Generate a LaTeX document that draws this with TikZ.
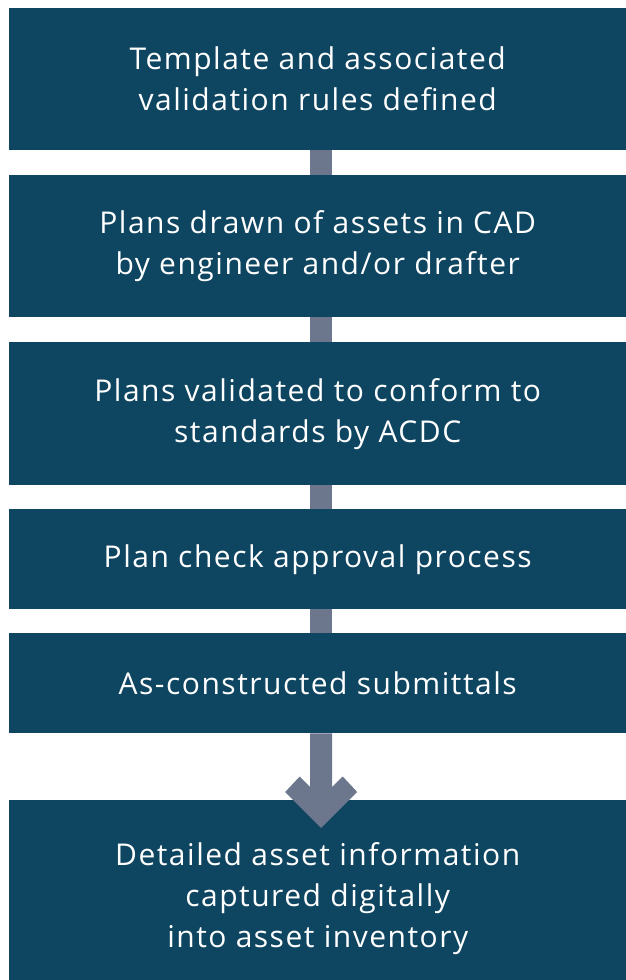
\documentclass[tikz,border=0pt]{standalone}
\usepackage{fontspec}
\setmainfont{Open Sans}[LetterSpace=5]
\usetikzlibrary{calc}
\definecolor{boxblue}{RGB}{14,69,96}
\definecolor{linkgray}{RGB}{108,118,140}
\tikzset{
  stepbox/.style={fill=boxblue, draw=none, text=white, minimum width=617pt, inner sep=0pt,
    align=center, font=\fontsize{30pt}{41pt}\selectfont, anchor=north west},
  link/.style={draw=linkgray, line width=22pt},
}
\begin{document}
\begin{tikzpicture}[x=1pt,y=-1pt]
\useasboundingbox (0,0) rectangle (626,980);
\fill[white] (0,0) rectangle (626,980);
\node[stepbox, minimum height=142pt] (a) at (9,8) {Template and associated\\validation rules defined};
\node[stepbox, minimum height=142pt] (b) at (9,175) {Plans drawn of assets in CAD\\by engineer and/or drafter};
\node[stepbox, minimum height=143pt] (c) at (9,342) {Plans validated to conform to\\standards by ACDC};
\node[stepbox, minimum height=100pt] (d) at (9,509) {Plan check approval process};
\node[stepbox, minimum height=100pt] (e) at (9,633) {As-constructed submittals};
\node[stepbox, minimum height=180pt, text height=114pt, text depth=0pt] (f) at (9,800) {Detailed asset information\\captured digitally\\into asset inventory};
\draw[link] ([xshift=3.5pt]a.south) -- ([xshift=3.5pt]b.north);
\draw[link] ([xshift=3.5pt]b.south) -- ([xshift=3.5pt]c.north);
\draw[link] ([xshift=3.5pt]c.south) -- ([xshift=3.5pt]d.north);
\draw[link] ([xshift=3.5pt]d.south) -- ([xshift=3.5pt]e.north);
\coordinate (tip) at ($(f.north)+(3.5,28)$);
\fill[linkgray] ($(e.south)+(-7.5,0)$) -- ($(tip)+(-11,-41)$) -- ($(tip)+(-21.5,-51.5)$)
  -- ($(tip)+(-36,-36)$) -- (tip) -- ($(tip)+(36,-36)$) -- ($(tip)+(21.5,-51.5)$)
  -- ($(tip)+(11,-41)$) -- ($(e.south)+(14.5,0)$) -- cycle;
\end{tikzpicture}
\end{document}
